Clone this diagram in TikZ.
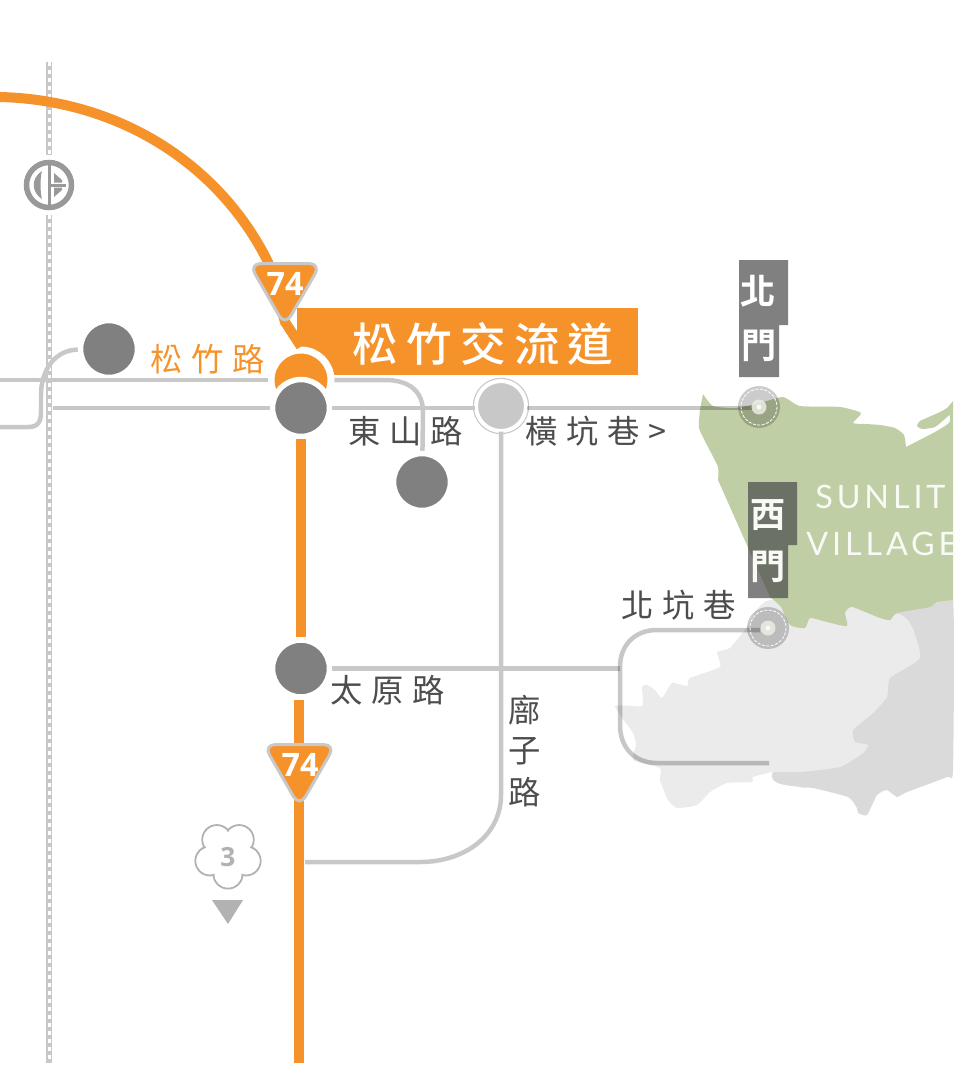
\documentclass[tikz,border=0pt]{standalone}
\usepackage{fontspec}
\usepackage{xcolor}
\usetikzlibrary{arrows.meta}
\newfontfamily\cjk{Noto Sans CJK TC}
\newfontfamily\cjkbold{Noto Sans CJK TC Bold}
\newfontfamily\cjkmedium{Noto Sans CJK TC Medium}
\newfontfamily\latinlt{Lato}
\newfontfamily\shieldfont{Open Sans}
\newcommand{\px}{0.569pt}
\definecolor{roadorange}{HTML}{F6922A}
\definecolor{roadgray}{HTML}{C8C8C8}
\definecolor{dotgray}{HTML}{808080}
\definecolor{labelgray}{HTML}{4D4D4D}
\definecolor{landgreen}{HTML}{BFCEA5}
\definecolor{landlight}{HTML}{EBEBEB}
\definecolor{landdark}{HTML}{DADADA}
\tikzset{
  road/.style={draw=roadgray,line width=4.5*\px},
  roadover/.style={draw=black,opacity=.22,line width=4.5*\px},
  mainroad/.style={draw=roadorange,line width=10*\px},
  jct/.style={circle,fill=dotgray,draw=white,line width=5.5*\px,minimum size=57*\px,inner sep=0pt},
  gatedot/.style={circle,fill=black,fill opacity=.2,minimum size=42*\px,inner sep=0pt},
  gatetag/.style={fill=black!71,fill opacity=.7},
  shield/.style={fill=roadorange,draw=roadgray,line width=3*\px,rounded corners=12*\px},
  shieldnum/.style={text=white,inner sep=0pt,font=\fontsize{18.4}{22}\selectfont\shieldfont\bfseries},
  roadlabel/.style={text=labelgray,inner sep=0pt,anchor=west,font=\fontsize{18.4}{20}\selectfont\cjk\addfontfeature{LetterSpace=27}},
  gatelabel/.style={text=white,inner sep=0pt,font=\fontsize{20}{22}\selectfont\cjkbold},
  villagelabel/.style={text=white!90!landgreen,inner sep=0pt,anchor=west,font=\fontsize{18.4}{20}\selectfont\latinlt\addfontfeature{LetterSpace=12}}
}
\begin{document}
\begin{tikzpicture}[x=0.02cm,y=-0.02cm]
    \useasboundingbox (0,0) rectangle (961,1065);
    % land
    \fill[landdark] plot[smooth cycle,tension=.3] coordinates {(895,613) (930,607) (953,600) (953,770) (947,777) (907,792) (897,797)
        (887,790) (877,795) (867,815) (858,813) (857,808) (848,797) (813,788) (800,787) (773,772)};
    \fill[landlight] plot[smooth cycle,tension=.3] coordinates {(615,706) (642,706) (642,687) (647,685) (655,690) (662,698) (672,683) (687,686)
        (690,678) (720,667) (717,652) (730,648) (747,627) (770,600) (895,613) (912,627) (920,658)
        (890,678) (887,697) (873,713) (853,730) (855,742) (868,745) (863,753) (840,767) (800,772)
        (773,772) (753,777) (752,782) (727,783) (710,792) (697,805) (677,808) (668,800) (660,780)
        (660,768) (633,760) (636,745) (633,733)};
    \fill[landgreen] plot[smooth,tension=.35] coordinates {(703,394) (713,406) (735,408) (760,403) (783,397) (800,406) (840,407) (861,413)
        (853,423) (866,424) (880,425) (895,428) (904,435) (906,447)}
        -- plot[smooth,tension=.35] coordinates {(906,447) (935,432) (949,423) (950,415) (946,418) (935,427) (922,429) (917,426) (920,421)
        (938,413) (947,408) (953,401)}
        -- plot[smooth,tension=.35] coordinates {(953,600) (937,602) (930,607) (897,613) (890,620) (880,618) (852,607) (845,613) (847,626)
        (827,622) (810,618) (805,628) (790,625) (781,607) (770,597)}
        -- (718,480) -- plot[smooth,tension=.35] coordinates {(718,480) (718,467) (707,445) (699,428) (700,410) (703,394)} -- cycle;
    % rail
    \coordinate (railtop) at (49,62);
    \coordinate (railend) at (49,1063);
    \node[circle,fill=white,minimum size=59*\px,inner sep=0pt] (hsr) at (49,185) {};
    \draw[draw=roadgray,line width=7*\px] (railtop) -- (hsr) -- (railend);
    \draw[white,line width=3*\px,dash pattern=on 4*\px off 4*\px] (railtop) -- (hsr) -- (railend);
    \draw[gray!80,line width=5.5*\px] (hsr.center) circle [radius=22.5];
    \fill[gray!80] (47.5,165) rectangle (50.5,205);
    \fill[gray!80] (50.5,183.5) rectangle (66,186.5);
    \fill[gray!80] (42,171) .. controls (31,178) and (31,192) .. (42,199) .. controls (40,192) and (40,178) .. (42,171) -- cycle;
    \fill[gray!80] (54,173) -- (62,180) -- (62,182.5) -- (54,182.5) -- cycle;
    \fill[gray!80] (54,187.5) -- (62,187.5) -- (62,190) -- (54,197) -- cycle;
    % banner
    \fill[roadorange] (297,308) rectangle (638,375);
    % main road
    \node[jct] (jctsong) at (109,349) {};
    \node[jct] (jctdong) at (422,482) {};
    \node[circle,fill=roadorange,draw=white,line width=7*\px,minimum size=60*\px,inner sep=0pt] (moon) at (301,380) {};
    \node[jct] (jctmain) at (301,408) {};
    \node[jct] (jcttai) at (301,668.5) {};
    \node[circle,fill=roadgray,draw=roadgray,line width=1.2*\px,double=white,double distance=4*\px,minimum size=50*\px,inner sep=0pt] (jctlane) at (501,406) {};
    \coordinate (roadstart) at (0,97);
    \coordinate (roadend) at (299,1063);
    \draw[mainroad] (roadstart) .. controls (120,100) and (220,165) .. (268,262) -- (285,322) -- (moon.north);
    \draw[mainroad] (jctmain) -- (jcttai);
    \draw[mainroad] (jcttai.south -| roadend) -- (roadend);
    \node[text=white,inner sep=0pt,anchor=west,font=\fontsize{26}{28}\selectfont\cjkmedium\addfontfeature{LetterSpace=18}] (bannertext) at (352,344) {松竹交流道};
    % grey roads
    \coordinate (songleft) at (0,380);
    \coordinate (mainleft) at (53,408);
    \coordinate (sideleft) at (0,427);
    \coordinate (sidecurve) at (41,395);
    \coordinate (liaoend) at (305,862);
    \coordinate (taiend) at (620,668.5);
    \coordinate (northend) at (753,408);
    \coordinate (loopstart) at (760,630);
    \coordinate (loopend) at (769,763);
    \draw[road] (songleft) -- (moon);
    \draw[road] (moon) -- (385,380) .. controls (410,380) and (423,392) .. (423,412) -- (jctdong);
    \draw[road] (mainleft) -- (jctmain);
    \draw[road] (jctmain) -- (jctmain -| jctlane.west);
    \draw[roadover] (northend -| jctlane.east) -- (northend);
    \draw[road] (sideleft) -- (28,427) .. controls (38,427) and (41,422) .. (41,412) -- (sidecurve) .. controls (41,370) and (55,350) .. (jctsong);
    \draw[road] (jctlane) -- (501,795) .. controls (501,835) and (465,862) .. (420,862) -- (liaoend);
    \draw[road] (jcttai) -- (taiend);
    \draw[roadover] (loopstart) -- (657,630) .. controls (635,630) and (620,645) .. (620,667) -- (620,725) .. controls (620,748) and (635,763) .. (657,763) -- (loopend);
    % gates
    \node[gatedot] (mknorth) at (759,407) {};
    \node[gatedot] (mkwest) at (768,628) {};
    \foreach \m in {mknorth,mkwest}{
        \draw[white,line width=.8*\px,dash pattern=on 3*\px off 1.5*\px] (\m.center) circle [radius=18];
        \fill[white!72!landgreen,opacity=.8] (\m.center) circle [radius=7.5];
        \fill[white,opacity=.8] (\m.center) circle [radius=2.5];
    }
    \fill[dotgray] (739,260) -- (788,260) -- (788,325) -- (779,325) -- (779,377) -- (739,377) -- cycle;
    \fill[gatetag] (748,482) -- (797,482) -- (797,545) -- (788,545) -- (788,598) -- (748,598) -- cycle;
    \node[gatelabel] (gatenorth1) at (758,291) {北};
    \node[gatelabel] (gatenorth2) at (759,346) {門};
    \node[gatelabel,text=white!90!landgreen] (gatewest1) at (768,515) {西};
    \node[gatelabel,text=white!90!landgreen] (gatewest2) at (768,567) {門};
    \node[villagelabel] (sunlit) at (815,497) {SUNLIT};
    \node[villagelabel] (village) at (806,544) {VILLAGE};
    % labels
    \node[roadlabel,text=roadorange] (lblsong) at (150,359) {松竹路};
    \node[roadlabel] (lbldong) at (348,431) {東山路};
    \node[roadlabel] (lbllane) at (525,431) {橫坑巷>};
    \node[roadlabel] (lbltai) at (330,690) {太原路};
    \node[roadlabel] (lblbei) at (621,605) {北坑巷};
    \node[roadlabel,anchor=center] (lblliao1) at (525,710) {廍};
    \node[roadlabel,anchor=center] (lblliao2) at (525,751) {子};
    \node[roadlabel,anchor=center] (lblliao3) at (525,792) {路};
    % shields
    \draw[shield] (249,263.5) -- (321,263.5) -- (285,326) -- cycle;
    \node[shieldnum] (shieldtop) at (285,283.5) {74};
    \draw[shield] (263.5,744.5) -- (335.5,744.5) -- (299.5,807) -- cycle;
    \node[shieldnum] (shieldlow) at (300,765) {74};
    % freeway sign
    \foreach \a in {90,162,234,306,18}
        \draw[gray!60,line width=2*\px] (228,855)++(\a:19) circle [radius=14.5];
    \foreach \a in {90,162,234,306,18}
        \fill[white] (228,855)++(\a:19) circle [radius=13.5];
    \fill[white] (228,855) circle [radius=19];
    \node[text=gray!60,inner sep=0pt,font=\fontsize{15}{18}\selectfont\shieldfont\bfseries] (freeway) at (228,857) {3};
    \fill[gray!60] (212,900) -- (243,900) -- (228,924) -- cycle;
\end{tikzpicture}
\end{document}
